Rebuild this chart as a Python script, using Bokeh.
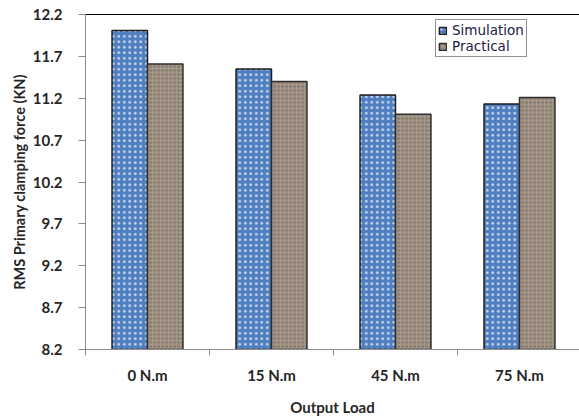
from bokeh.plotting import figure
from bokeh.models import (ColumnDataSource, Range1d, FixedTicker, LinearAxis,
                          Legend, LegendItem)
from bokeh.transform import dodge
from bokeh.embed import file_html
from bokeh.resources import INLINE

# Data
loads = ["0 N.m", "15 N.m", "45 N.m", "75 N.m"]
simulation = [12.01, 11.55, 11.24, 11.13]
practical = [11.61, 11.40, 11.01, 11.21]
y_ticks = [8.2, 8.7, 9.2, 9.7, 10.2, 10.7, 11.2, 11.7, 12.2]

centers = [i + 0.5 for i in range(len(loads))]
src = ColumnDataSource(dict(x=centers, sim=simulation, prac=practical, base=[8.2] * len(loads)))

FONT = "Lato"
TXT = "#262626"

p = figure(width=579, height=418, output_backend="svg", toolbar_location=None,
           x_range=Range1d(0, 3.984), y_range=Range1d(8.2, 12.2),
           min_border_left=85, min_border_top=14, min_border_right=0, min_border_bottom=67,
           background_fill_color="white", border_fill_color="white")
p.xgrid.visible = False
p.ygrid.visible = False
p.outline_line_color = None

bw = 0.286
r_sim = p.vbar(x=dodge("x", -bw / 2, range=p.x_range), top="sim", bottom="base", width=bw, source=src,
               fill_color="#4f7fc0", line_color="#1e1e1e", line_width=1.5,
               hatch_pattern="dot", hatch_color="white", hatch_scale=5.5, hatch_weight=0.6, hatch_alpha=0.7)
r_prac = p.vbar(x=dodge("x", bw / 2, range=p.x_range), top="prac", bottom="base", width=bw, source=src,
                fill_color="#a59789", line_color="#2e2e2e", line_width=1.5,
                hatch_pattern="ring", hatch_color="#5f5347", hatch_scale=4, hatch_weight=1, hatch_alpha=0.45)

# x axis: category labels at centres, boundary ticks as minor ticks
xa = p.xaxis[0]
xa.ticker = FixedTicker(ticks=centers, minor_ticks=[0, 1, 2, 3, 4])
xa.major_label_overrides = {c: lab for c, lab in zip(centers, loads)}
xa.major_tick_line_color = None
xa.minor_tick_line_color = "#8c8c8c"
xa.minor_tick_out = 6
xa.minor_tick_in = 0
xa.axis_line_color = "#8c8c8c"
xa.major_label_standoff = 10
xa.major_label_text_font = FONT
xa.major_label_text_font_style = "bold"
xa.major_label_text_font_size = "15px"
xa.major_label_text_color = TXT
xa.axis_label = "Output Load"
xa.axis_label_text_font = FONT
xa.axis_label_text_font_style = "bold"
xa.axis_label_text_font_size = "15px"
xa.axis_label_text_color = TXT
xa.axis_label_standoff = 11

ya = p.yaxis[0]
ya.ticker = FixedTicker(ticks=y_ticks, minor_ticks=[])
ya.major_label_overrides = {t: f"{t:.1f}" for t in y_ticks}
ya.major_tick_line_color = "#8c8c8c"
ya.major_tick_out = 7
ya.major_tick_in = 0
ya.axis_line_color = "#8c8c8c"
ya.major_label_standoff = 16
ya.major_label_text_font = FONT
ya.major_label_text_font_style = "bold"
ya.major_label_text_font_size = "15px"
ya.major_label_text_color = TXT
ya.axis_label = "RMS Primary clamping force (KN)"
ya.axis_label_text_font = FONT
ya.axis_label_text_font_style = "bold"
ya.axis_label_text_font_size = "14.5px"
ya.axis_label_text_color = TXT
ya.axis_label_standoff = 2

# top frame line
top = LinearAxis(ticker=FixedTicker(ticks=[]), axis_line_color="black", axis_line_width=1.2,
                 major_tick_line_color=None, minor_tick_line_color=None,
                 major_label_text_font_size="0px")
p.add_layout(top, "above")

legend = Legend(items=[LegendItem(label="Simulation", renderers=[r_sim]),
                       LegendItem(label="Practical", renderers=[r_prac])],
                location=(350, 292), border_line_color="#222222", border_line_width=1,
                background_fill_color="white", background_fill_alpha=1,
                label_text_font="DejaVu Sans", label_text_font_size="13.5px", label_text_color="#202040",
                glyph_width=9, glyph_height=9, label_height=13, label_standoff=5,
                padding=2, spacing=0, margin=0)
p.add_layout(legend, "center")

open("out.html", "w").write(file_html(p, INLINE))
